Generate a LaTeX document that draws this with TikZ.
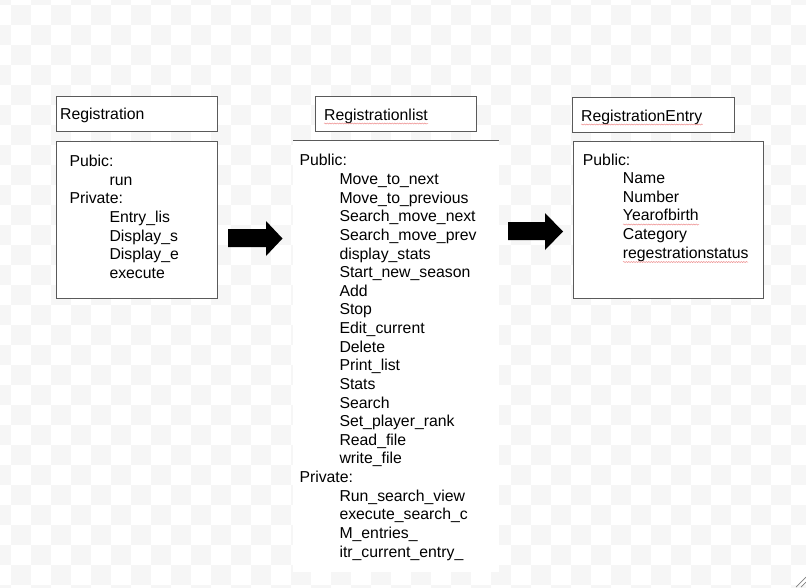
\documentclass[tikz,border=0pt]{standalone}
\usepackage{fontspec}
\setmainfont{Liberation Sans}
\usetikzlibrary{decorations.pathmorphing}
\definecolor{checker}{HTML}{F6F6F6}
\definecolor{boxline}{HTML}{5A5A5A}
\definecolor{spellred}{HTML}{EE9090}
\newcommand{\ind}{\hspace*{40pt}}

\begin{document}
\begin{tikzpicture}[x=1pt,y=-1pt]
            \tikzstyle{every node}+=[inner sep=0pt, font=\fontsize{15.8}{18.62}\selectfont]
            \tikzstyle{umlbox}=[draw=boxline, line width=0.9pt, fill=white, rectangle]
            \tikzstyle{members}=[anchor=base west, align=left]
            \tikzstyle{spell}=[spellred, line width=0.5pt, decorate, decoration={snake, amplitude=0.6pt, segment length=2.5pt}]
            \useasboundingbox (0,0) rectangle (806,587);
            % checkered background
            \fill [white] (0,0) rectangle (806,587);
            \begin{scope}
            \clip (0,0) rectangle (806,587);
            \foreach \i in {-1,...,39}
              \foreach \j in {-1,...,29} {
                \pgfmathtruncatemacro\parity{mod(\i+\j+2,2)}
                \ifnum\parity=0 \fill [checker] (11+20*\i,5+20*\j) rectangle ++(20,20); \fi
              }
            \end{scope}
            % Registration (members placed by their last baseline)
            \node [umlbox, minimum width=161, minimum height=35] (regHead) at (137.2,114.2) {};
            \node [anchor=base west] (regTitle) at (60,119.5) {Registration};
            \node [umlbox, minimum width=161, minimum height=157] (regBody) at (137.2,219.5) {};
            \node [members] (regMembers) at (69.3,278.4) {Pubic:\\ \ind run\\ Private:\\ \ind Entry\_lis\\ \ind Display\_s\\ \ind Display\_e\\ \ind execute};
            % Registrationlist
            \node [umlbox, minimum width=161, minimum height=35] (listHead) at (395.5,114.2) {};
            \node [anchor=base west] (listTitle) at (324,120) {Registrationlist};
            \node [fill=white, minimum width=206, minimum height=431] (listBody) at (396,356.5) {};
            \draw [boxline, line width=0.9pt] (listBody.north west) -- (listBody.north east);
            \node [members] (listMembers) at (299.3,557) {Public:\\ \ind Move\_to\_next\\ \ind Move\_to\_previous\\ \ind Search\_move\_next\\ \ind Search\_move\_prev\\ \ind display\_stats\\ \ind Start\_new\_season\\ \ind Add\\ \ind Stop\\ \ind Edit\_current\\ \ind Delete\\ \ind Print\_list\\ \ind Stats\\ \ind Search\\ \ind Set\_player\_rank\\ \ind Read\_file\\ \ind write\_file\\ Private:\\ \ind Run\_search\_view\\ \ind execute\_search\_c\\ \ind M\_entries\_\\ \ind itr\_current\_entry\_};
            % RegistrationEntry
            \node [umlbox, minimum width=162, minimum height=35] (entryHead) at (653.5,114.8) {};
            \node [anchor=base west] (entryTitle) at (581,121) {RegistrationEntry};
            \node [umlbox, minimum width=190, minimum height=157] (entryBody) at (668,219.5) {};
            \node [members] (entryMembers) at (582.7,258.1) {Public:\\ \ind Name\\ \ind Number\\ \ind Yearofbirth\\ \ind Category\\ \ind regestrationstatus};
            % spell check marks
            \draw [spell] ([yshift=-3.5]listTitle.base west) -- ([yshift=-3.5]listTitle.base east);
            \draw [spell] ([yshift=-3.5]entryTitle.base west) -- ([yshift=-3.5]entryTitle.base east);
            \draw [spell] (623,224.5) -- (699,224.5);
            \draw [spell] (623,262) -- (748,262);
            % block arrows
            \fill [black] (228,229) -- (266,229) -- (266,221) -- (282.5,238.5) -- (266,256) -- (266,247) -- (228,247) -- cycle;
            \fill [black] (508,222) -- (545,222) -- (545,213) -- (563,231.5) -- (545,250) -- (545,240) -- (508,240) -- cycle;
            % resize grip
            \draw [gray, line width=0.7pt] (806,577) -- (796,587);
            \draw [gray, line width=0.7pt] (806,582) -- (801,587);
        \end{tikzpicture}
\end{document}
